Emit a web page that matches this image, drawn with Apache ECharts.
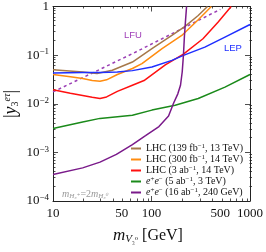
<!DOCTYPE html>
<html><head><meta charset="utf-8">
<script src="https://cdn.jsdelivr.net/npm/echarts@6/dist/echarts.min.js"></script>
<style>html,body{margin:0;padding:0;background:#fff}#c{width:266px;height:252px}</style>
</head><body><div id="c"></div>
<script>
// ---- data ----
const brownX = [10, 20, 28, 40, 64, 101, 161, 219, 298, 370];
const brownY = [0.050, 0.045, 0.042, 0.049, 0.072, 0.136, 0.254, 0.389, 0.654, 1.0];
const orangeX = [10, 15, 20, 25, 30, 35, 45, 64, 80, 128, 203, 300, 405];
const orangeY = [0.040, 0.036, 0.033, 0.030, 0.029, 0.031, 0.040, 0.053, 0.067, 0.136, 0.254, 0.54, 1.0];
const redX = [10, 15, 20, 25, 30, 35, 45, 64, 84, 138, 211, 333, 473, 644];
const redY = [0.0195, 0.0165, 0.0148, 0.0136, 0.0128, 0.0138, 0.018, 0.024, 0.030, 0.063, 0.105, 0.217, 0.476, 1.0];
const blueX = [10, 20, 30, 45, 64, 101, 161, 211, 348, 557, 1000];
const blueY = [0.043, 0.044, 0.044, 0.045, 0.048, 0.057, 0.078, 0.099, 0.146, 0.235, 0.427];
const greenX = [10, 20, 30, 64, 101, 174, 298, 557, 1000];
const greenY = [0.0031, 0.0042, 0.0050, 0.0058, 0.0074, 0.0093, 0.0128, 0.022, 0.040];
const purpleX = [10, 20, 30, 44, 64, 87, 119, 149, 167, 185, 197, 205, 211, 216, 222, 227];
const purpleY = [0.00035, 0.00048, 0.00063, 0.00091, 0.00145, 0.0022, 0.0034, 0.0056, 0.0101, 0.016, 0.024, 0.045, 0.10, 0.25, 0.55, 1.0];
const lfuX = [10, 64, 500];
const lfuY = [0.0175, 0.107, 0.875];

const seriesNames = ['LHC139', 'LHC300', 'LHC3ab', 'ee5', 'ee16'];
const legendLabels = [
  '{a|LHC (139 fb}{s|−1}{a|, 13 TeV)}',
  '{a|LHC (300 fb}{s|−1}{a|, 14 TeV)}',
  '{a|LHC (3 ab}{s|−1}{a|, 14 TeV)}',
  '{i|e}{s|+}{i|e}{s|−}{a| (5 ab}{s|−1}{a|, 3 TeV)}',
  '{i|e}{s|+}{i|e}{s|−}{a| (16 ab}{s|−1}{a|, 240 GeV)}'
];
const xMajorTicks = [10, 100, 1000];
const xLabelValues = [10, 50, 100, 500, 1000];
const xMinorTicks = [20, 30, 40, 50, 60, 70, 80, 90, 200, 300, 400, 500, 600, 700, 800, 900];
const yMajorTicks = [0.0001, 0.001, 0.01, 0.1, 1];
const yMinorTicks = [0.0002, 0.0003, 0.0004, 0.0005, 0.0006, 0.0007, 0.0008, 0.0009,
  0.002, 0.003, 0.004, 0.005, 0.006, 0.007, 0.008, 0.009,
  0.02, 0.03, 0.04, 0.05, 0.06, 0.07, 0.08, 0.09,
  0.2, 0.3, 0.4, 0.5, 0.6, 0.7, 0.8, 0.9];

const pairs = (xs, ys) => xs.map((x, i) => [x, ys[i]]);
const SERIF = '"Liberation Serif","DejaVu Serif",serif';
const SANS = '"Liberation Sans","DejaVu Sans",sans-serif';
const AX = '#222';

function xAx(gridIndex, position, ticks, len, labels) {
  return {
    type: 'log', logBase: 10, min: 10, max: 1000, gridIndex, position,
    axisLine: { show: gridIndex === 0, lineStyle: { color: AX, width: 1 } },
    axisTick: { show: true, inside: true, length: len, customValues: ticks, lineStyle: { color: AX, width: 0.8 } },
    axisLabel: labels ? { show: true, customValues: xLabelValues, margin: 6, color: '#111', fontFamily: SERIF, fontSize: 13,
      formatter: v => String(Math.round(v)) } : { show: false },
    splitLine: { show: false }, minorTick: { show: false }
  };
}
function yAx(gridIndex, position, ticks, len, labels) {
  return {
    type: 'log', logBase: 10, min: 0.0001, max: 1, gridIndex, position,
    axisLine: { show: gridIndex === 0, lineStyle: { color: AX, width: 1 } },
    axisTick: { show: true, inside: true, length: len, customValues: ticks, lineStyle: { color: AX, width: 0.8 } },
    axisLabel: labels ? {
      show: true, customValues: yMajorTicks, margin: 4, color: '#111',
      formatter: v => { const e = Math.round(Math.log10(v)); return e === 0 ? '{b|1}' : '{b|10}{s|−' + (-e) + '}'; },
      rich: { b: { fontFamily: SERIF, fontSize: 13, color: '#111' }, s: { fontFamily: SERIF, fontSize: 9, color: '#111', verticalAlign: 'top', padding: [0, 0, 6, 0] } }
    } : { show: false },
    splitLine: { show: false }, minorTick: { show: false }
  };
}

const gridPos = { left: 53, right: 14, top: 6, bottom: 51 };
const lineSeries = (name, xs, ys, color, extra) => Object.assign({
  name, type: 'line', data: pairs(xs, ys), xAxisIndex: 0, yAxisIndex: 0,
  showSymbol: false, symbol: 'none', smooth: false, silent: true, animation: false,
  lineStyle: { color, width: 1.5 }, itemStyle: { color }
}, extra || {});

const legendRich = {
  a: { fontFamily: SERIF, fontSize: 10, color: '#111', lineHeight: 11 },
  i: { fontFamily: SERIF, fontSize: 10, fontStyle: 'italic', color: '#111', lineHeight: 11 },
  s: { fontFamily: SERIF, fontSize: 7, color: '#111', verticalAlign: 'top', lineHeight: 11, padding: [0, 0, 4, 0] }
};

const chart = echarts.init(document.getElementById('c'), null, { renderer: 'canvas' });
chart.setOption({
  animation: false,
  grid: [Object.assign({}, gridPos), Object.assign({}, gridPos)],
  xAxis: [xAx(0, 'bottom', xMajorTicks, 5, true), xAx(0, 'top', xMajorTicks, 5, false),
          xAx(1, 'bottom', xMinorTicks, 2.5, false), xAx(1, 'top', xMinorTicks, 2.5, false)],
  yAxis: [yAx(0, 'left', yMajorTicks, 5, true), yAx(0, 'right', yMajorTicks, 5, false),
          yAx(1, 'left', yMinorTicks, 2.5, false), yAx(1, 'right', yMinorTicks, 2.5, false)],
  legend: {
    data: seriesNames, orient: 'vertical', left: 131, top: 143, itemGap: 0,
    itemWidth: 10, itemHeight: 2, icon: 'rect', padding: 0,
    formatter: n => legendLabels[seriesNames.indexOf(n)],
    textStyle: { rich: legendRich }
  },
  series: [
    lineSeries('LFU', lfuX, lfuY, '#9b3fb5', { lineStyle: { color: '#9b3fb5', width: 1.5, type: [3, 3] } }),
    lineSeries('ee5', greenX, greenY, '#1a8a1a'),
    lineSeries('LHC3ab', redX, redY, '#ff1010'),
    lineSeries('LHC300', orangeX, orangeY, '#ff8c10'),
    lineSeries('LHC139', brownX, brownY, '#a6784a'),
    lineSeries('LEP', blueX, blueY, '#1f2fff'),
    lineSeries('ee16', purpleX, purpleY, '#7a1a8a')
  ],
  graphic: [
    { type: 'text', left: 124, top: 30, silent: true, style: { text: 'LFU', fill: '#a040b8', font: '9.5px ' + SANS } },
    { type: 'text', left: 224, top: 43, silent: true, style: { text: 'LEP', fill: '#2030ff', font: '9.5px ' + SANS } },
    { type: 'text', left: 62, top: 189, silent: true, style: {
      text: '{i|m}{sb|H₃⁺}{n|=2}{i|m}{sb|H₃⁰}',
      rich: { i: { fontFamily: SERIF, fontStyle: 'italic', fontSize: 10, fill: '#999' },
              sb: { fontFamily: SERIF, fontStyle: 'italic', fontSize: 7, fill: '#999', verticalAlign: 'bottom', padding: [4, 0, 0, 0] },
              n: { fontFamily: SERIF, fontSize: 10, fill: '#999' } } } },
    { type: 'text', x: 148, y: 236, silent: true, style: {
      text: '{m|m}{v|V}{t|₃⁰}{n| [GeV]}', align: 'center', verticalAlign: 'middle',
      rich: { m: { fontFamily: SERIF, fontStyle: 'italic', fontSize: 17, fill: '#111' },
              v: { fontFamily: SERIF, fontStyle: 'italic', fontSize: 11, fill: '#111', verticalAlign: 'bottom', padding: [6, 0, 0, 0] },
              t: { fontFamily: SERIF, fontSize: 8, fill: '#111', verticalAlign: 'bottom', padding: [8, 0, 0, 0] },
              n: { fontFamily: SERIF, fontSize: 16, fill: '#111' } } } },
    { type: 'text', x: 11, y: 104, rotation: Math.PI / 2, silent: true, style: {
      text: '{b||}{y|y}{s|3}{e|eτ}{b||}', align: 'center', verticalAlign: 'middle',
      rich: { b: { fontFamily: SERIF, fontSize: 18, fill: '#111' },
              y: { fontFamily: SERIF, fontStyle: 'italic', fontSize: 18, fill: '#111' },
              s: { fontFamily: SERIF, fontSize: 10, fill: '#111', verticalAlign: 'bottom', padding: [8, 0, 0, 0] },
              e: { fontFamily: SERIF, fontStyle: 'italic', fontSize: 10, fill: '#111', verticalAlign: 'top', padding: [0, 0, 8, 0] } } } }
  ]
});
</script></body></html>
